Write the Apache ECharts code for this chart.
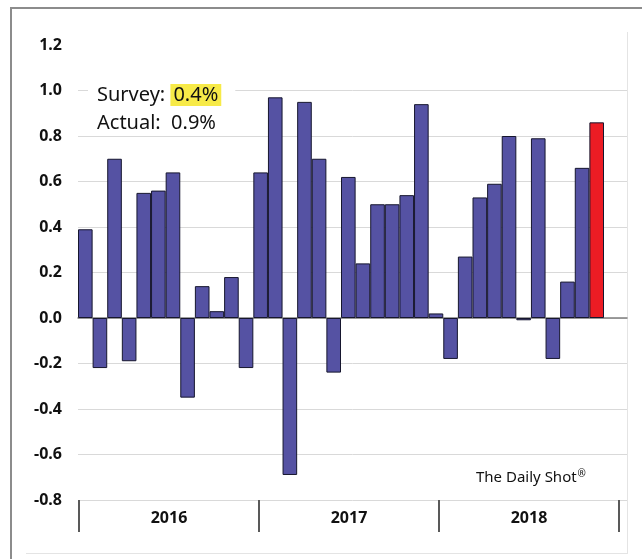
<!DOCTYPE html>
<html>
<head>
<meta charset="utf-8">
<script src="https://cdn.jsdelivr.net/npm/echarts@6/dist/echarts.min.js"></script>
<style>
html,body{margin:0;padding:0;background:#fff;}
#chart{width:642px;height:559px;}
</style>
</head>
<body>
<div id="chart"></div>
<script>
// ---- data ----
var months = [
  '2016-01','2016-02','2016-03','2016-04','2016-05','2016-06','2016-07','2016-08','2016-09','2016-10','2016-11','2016-12',
  '2017-01','2017-02','2017-03','2017-04','2017-05','2017-06','2017-07','2017-08','2017-09','2017-10','2017-11','2017-12',
  '2018-01','2018-02','2018-03','2018-04','2018-05','2018-06','2018-07','2018-08','2018-09','2018-10','2018-11','2018-12'
];
var values = [
  0.39, -0.22, 0.70, -0.19, 0.55, 0.56, 0.64, -0.35, 0.14, 0.03, 0.18, -0.22,
  0.64, 0.97, -0.69, 0.95, 0.70, -0.24, 0.62, 0.24, 0.50, 0.50, 0.54, 0.94,
  0.02, -0.18, 0.27, 0.53, 0.59, 0.80, -0.01, 0.79, -0.18, 0.16, 0.66, 0.86
];
var years = ['2016', '2017', '2018'];
var surveyValue = '0.4%';
var actualValue = '0.9%';
var highlightIndex = values.length - 1;
var sourceName = 'The Daily Shot';
var sourceMark = '®';

// ---- styles ----
var barColor = '#5552a3';
var highlightColor = '#ec1c24';
var font = '"Noto Sans", "Liberation Sans", sans-serif';

var chart = echarts.init(document.getElementById('chart'), null, {renderer: 'canvas'});

var barData = values.map(function (v, i) {
  return {
    value: v,
    itemStyle: { color: i === highlightIndex ? highlightColor : barColor }
  };
});

var option = {
  backgroundColor: '#fff',
  animation: false,
  title: [
    {
      left: 88, top: 78,
      backgroundColor: '#fff',
      padding: [3, 14, 3, 9],
      text: '{a|Survey: }{b|' + surveyValue + '}\n{a|Actual:  ' + actualValue + '}',
      textStyle: {
        fontWeight: 'normal',
        rich: {
          a: { fontFamily: font, fontSize: 20, fontWeight: 'normal', color: '#111', lineHeight: 28 },
          b: { fontFamily: font, fontSize: 20, fontWeight: 'normal', color: '#111', lineHeight: 28,
               backgroundColor: '#f7ea48', padding: [1, 3, 1, 3] }
        }
      }
    },
    {
      left: 471, top: 464,
      text: '{n|' + sourceName + '}{s|' + sourceMark + '}',
      textStyle: {
        fontWeight: 'normal',
        rich: {
          n: { fontFamily: font, fontSize: 15, fontWeight: 'normal', color: '#111' },
          s: { fontFamily: font, fontSize: 10, fontWeight: 'normal', color: '#111', verticalAlign: 'top', padding: [0, 0, 8, 1] }
        }
      }
    }
  ],
  grid: [
    { left: 78, right: 15, top: 45, height: 455, containLabel: false },
    { left: 78, width: 526, top: 45, height: 455, containLabel: false },
    { left: 79, width: 540, top: 500, height: 33, containLabel: false }
  ],
  xAxis: [
    { gridIndex: 0, type: 'value', min: 0, max: 1,
      axisLine: { show: true, onZero: true, lineStyle: { color: '#7f7f7f', width: 1.5 } },
      axisTick: { show: false }, axisLabel: { show: false }, splitLine: { show: false } },
    { gridIndex: 1, type: 'category', data: months,
      axisLine: { show: false }, axisTick: { show: false }, axisLabel: { show: false } },
    { gridIndex: 2, type: 'category', data: years, position: 'top',
      axisLine: { show: false, onZero: false },
      axisTick: { show: true, inside: true, length: 32, lineStyle: { color: '#595959', width: 2 } },
      axisLabel: { inside: true, margin: 10, fontFamily: font, fontSize: 16, fontWeight: 'bold', color: '#111' } }
  ],
  yAxis: [
    { gridIndex: 0, type: 'value', min: -0.8, max: 1.2, interval: 0.2,
      axisLine: { show: false }, axisTick: { show: false },
      axisLabel: { margin: 16, fontFamily: font, fontSize: 16, fontWeight: 'bold', color: '#111',
                   formatter: function (v) { return v.toFixed(1); } },
      splitLine: { show: true, showMaxLine: false, lineStyle: { color: '#d9d9d9', width: 1 } } },
    { gridIndex: 1, type: 'value', min: -0.8, max: 1.2, interval: 0.2, show: false },
    { gridIndex: 2, type: 'value', show: false }
  ],
  graphic: [
    { type: 'rect', shape: { x: 10, y: 7, width: 632, height: 2 }, style: { fill: '#8c8c8c' }, silent: true },
    { type: 'rect', shape: { x: 10, y: 7, width: 2, height: 552 }, style: { fill: '#8c8c8c' }, silent: true },
    { type: 'rect', shape: { x: 627, y: 32, width: 1, height: 522 }, style: { fill: '#e4e4e4' }, silent: true },
    { type: 'rect', shape: { x: 26, y: 553, width: 602, height: 1 }, style: { fill: '#e4e4e4' }, silent: true }
  ],
  series: [
    {
      type: 'bar', xAxisIndex: 1, yAxisIndex: 1,
      data: barData,
      barWidth: '100%',
      itemStyle: { borderColor: '#16162e', borderWidth: 1 }
    }
  ]
};
chart.setOption(option);
</script>
</body>
</html>
